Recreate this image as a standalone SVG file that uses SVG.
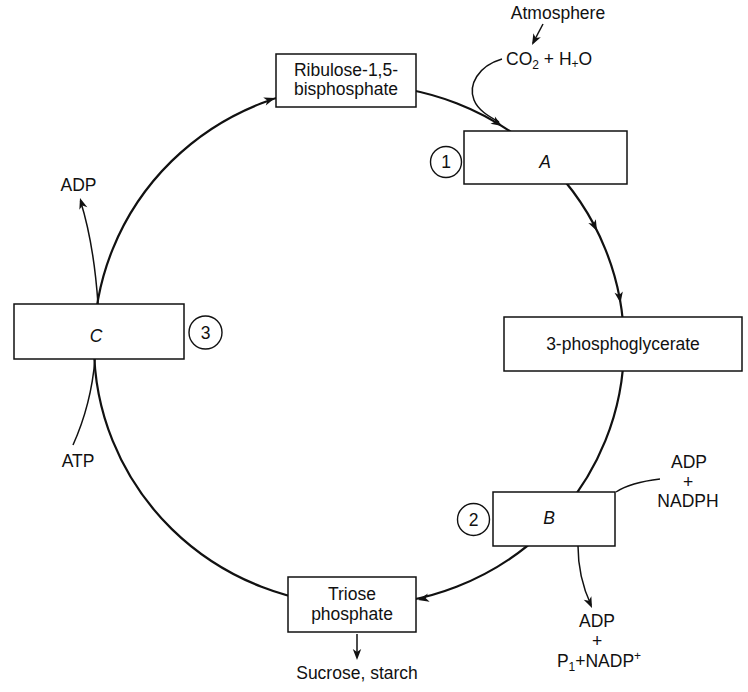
<svg xmlns="http://www.w3.org/2000/svg" width="748" height="692" viewBox="0 0 748 692">
<style>
text{font-family:"Liberation Sans",Arial,sans-serif;font-size:17.5px;fill:#111;text-anchor:middle}
.it{font-style:italic}
.box{fill:#fff;stroke:#111;stroke-width:1.5}
.num{fill:#fff;stroke:#111;stroke-width:1.4}
.ln{fill:none;stroke:#111;stroke-width:1.5}
.cyc{fill:none;stroke:#111;stroke-width:2.2}
.ah{fill:#111}
</style>
<defs>
<path id="ah" d="M0,0 L-11,-4.2 L-8,0 L-11,4.2 Z"/>
</defs>
<g id="connectors">
<ellipse class="cyc" cx="359" cy="345" rx="265" ry="260"/>
<use href="#ah" class="ah" transform="translate(275,98) rotate(-17.9)"/>
<use href="#ah" class="ah" transform="translate(502,126) rotate(32.2)"/>
<use href="#ah" class="ah" transform="translate(597,231) rotate(63.5)"/>
<use href="#ah" class="ah" transform="translate(620.5,303) rotate(80.5)"/>
<use href="#ah" class="ah" transform="translate(418,600) rotate(167.6)"/>
<path class="ln" d="M543,24 L533,43"/>
<use href="#ah" class="ah" transform="translate(532,45) rotate(117.6)"/>
<path class="ln" d="M502,59 C478,66 468,85 474,100 C478,110 488,116 499,122"/>
<path class="ln" d="M98,304 C95,260 88,225 80.5,201"/>
<use href="#ah" class="ah" transform="translate(80,198) rotate(-107.7)"/>
<path class="ln" d="M95,359 C92,395 82,425 73,445"/>
<path class="ln" d="M616,492 C628,484 643,481 660,479"/>
<path class="ln" d="M578,546 C578,570 584,590 591,605"/>
<use href="#ah" class="ah" transform="translate(592,608) rotate(66)"/>
<path class="ln" d="M357,634 L357,657"/>
<use href="#ah" class="ah" transform="translate(357,660) rotate(90)"/>
</g>
<g id="ribulose">
<rect class="box" x="276" y="54" width="140" height="53"/>
<text x="346" y="76">Ribulose-1,5-</text>
<text x="346" y="95">bisphosphate</text>
</g>
<g id="nodeA">
<rect class="box" x="464" y="131" width="163" height="53"/>
<text class="it" x="545" y="168">A</text>
</g>
<g id="step1">
<circle class="num" cx="446" cy="162" r="15.5"/>
<text x="446" y="168">1</text>
</g>
<g id="pga">
<rect class="box" x="504" y="317" width="238" height="54"/>
<text x="623" y="350">3-phosphoglycerate</text>
</g>
<g id="nodeB">
<rect class="box" x="493" y="492" width="122" height="54"/>
<text class="it" x="549" y="524">B</text>
</g>
<g id="step2">
<circle class="num" cx="473.5" cy="519.5" r="16"/>
<text x="473.5" y="525.5">2</text>
</g>
<g id="triose">
<rect class="box" x="288" y="577" width="128" height="55"/>
<text x="352" y="600">Triose</text>
<text x="352" y="620">phosphate</text>
</g>
<g id="nodeC">
<rect class="box" x="14" y="304" width="170" height="55"/>
<text class="it" x="96" y="342">C</text>
</g>
<g id="step3">
<circle class="num" cx="205.5" cy="332.5" r="16.5"/>
<text x="205.5" y="338.5">3</text>
</g>
<g id="labels">
<text x="558" y="19">Atmosphere</text>
<text x="506" y="65" style="text-anchor:start">CO<tspan font-size="12" dy="4">2</tspan><tspan dy="-4"> + H</tspan><tspan font-size="12" dy="3">+</tspan><tspan dy="-3">O</tspan></text>
<text x="78.5" y="191">ADP</text>
<text x="78" y="467">ATP</text>
<text x="689" y="468">ADP</text>
<text x="688" y="488">+</text>
<text x="688" y="507">NADPH</text>
<text x="597" y="627">ADP</text>
<text x="597" y="647">+</text>
<text x="599" y="667">P<tspan font-size="12" dy="4">1</tspan><tspan dy="-4">+NADP</tspan><tspan font-size="12" dy="-7">+</tspan></text>
<text x="357" y="679">Sucrose, starch</text>
</g>
</svg>
